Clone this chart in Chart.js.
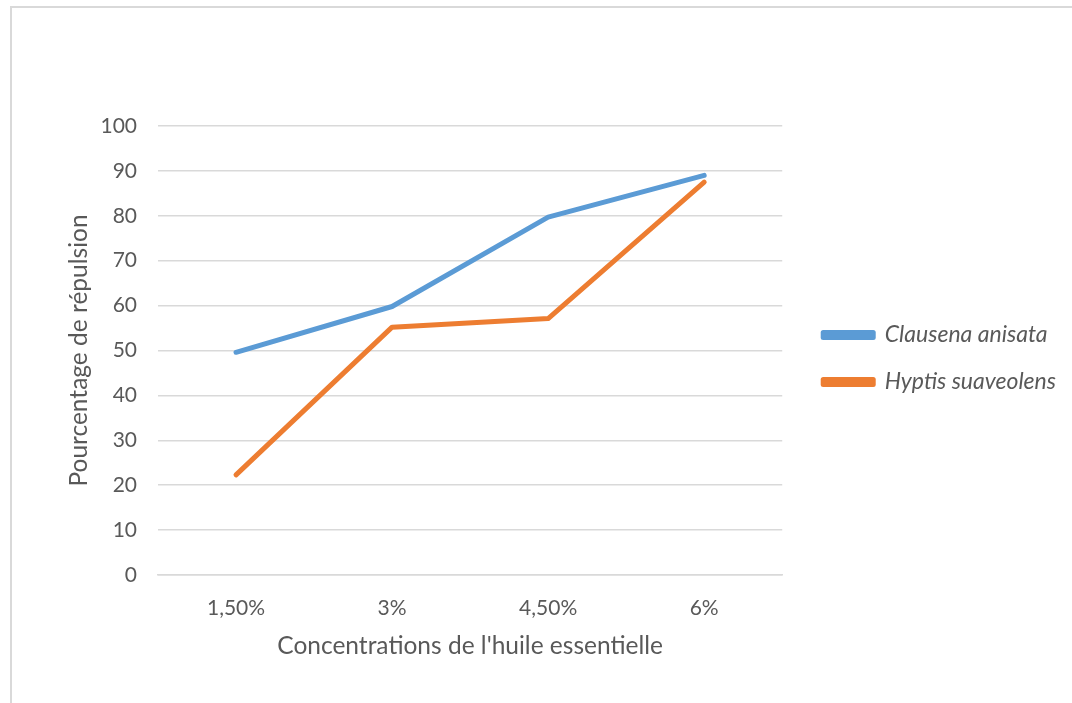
<!DOCTYPE html>
<html>
<head>
<meta charset="utf-8">
<script src="https://cdn.jsdelivr.net/npm/chart.js@4"></script>
<style>
  html, body { margin: 0; padding: 0; background: #fff; }
  #wrap { position: relative; width: 1072px; height: 703px; overflow: hidden; }
  #frame { position: absolute; left: 10px; top: 6px; width: 1100px; height: 800px;
           border-top: 2px solid #d9d9d9; border-left: 2px solid #d9d9d9; }
  canvas { position: absolute; left: 0; top: 0; }
</style>
</head>
<body>
<div id="wrap">
  <div id="frame"></div>
  <canvas id="grafico" width="1072" height="703"></canvas>
</div>
<script>
const concentrations = ["1,50%", "3%", "4,50%", "6%"];

// Clausena anisata
const clausena = [49.6, 59.8, 79.7, 89];

// Hyptis suaveolens
const hyptis = [22.3, 55.2, 57.1, 87.5];

const yTicks = [0, 10, 20, 30, 40, 50, 60, 70, 80, 90, 100];

const gris = "#595959";
const fuente = "Lato, 'Open Sans', sans-serif";

const grafico = new Chart(document.getElementById("grafico"), {
  type: "line",
  data: {
    labels: concentrations,
    datasets: [
      {
        label: "Clausena anisata",
        data: clausena,
        borderColor: "#5b9bd5",
        backgroundColor: "#5b9bd5",
        borderWidth: 5,
        pointRadius: 0,
        borderCapStyle: "round",
        borderJoinStyle: "round",
      },
      {
        label: "Hyptis suaveolens",
        data: hyptis,
        borderColor: "#ed7d31",
        backgroundColor: "#ed7d31",
        borderWidth: 5,
        pointRadius: 0,
        borderCapStyle: "round",
        borderJoinStyle: "round",
      },
    ],
  },
  options: {
    responsive: false,
    animation: false,
    layout: {
      padding: { left: 60, top: 126, bottom: 42, right: 6 },
    },
    plugins: {
      tooltip: { enabled: false },
      legend: {
        position: "right",
        fullSize: false,
        maxWidth: 320,
        title: {
          display: true,
          text: " ",
          padding: 2,
          font: { size: 10 },
        },
        labels: {
          boxWidth: 50,
          boxHeight: 5,
          padding: 24,
          color: gris,
          font: { family: fuente, size: 23, style: "italic" },
        },
      },
    },
    scales: {
      x: {
        offset: true,
        grid: { display: false },
        border: { display: true, color: "#d9d9d9", width: 1.5 },
        ticks: {
          color: gris,
          padding: 13,
          font: { family: fuente, size: 21 },
        },
        title: {
          display: true,
          text: "Concentrations de l'huile essentielle",
          color: gris,
          padding: { top: 6, bottom: 0 },
          font: { family: fuente, size: 24.5 },
        },
        afterFit: (scale) => { scale.height = 86; },
      },
      y: {
        min: 0,
        max: 100,
        afterBuildTicks: (scale) => { scale.ticks = yTicks.map((v) => ({ value: v })); },
        grid: { color: "#d9d9d9", lineWidth: 1.5, drawTicks: false },
        border: { display: false },
        ticks: {
          color: gris,
          padding: 21,
          font: { family: fuente, size: 21 },
        },
        title: {
          display: true,
          text: "Pourcentage de répulsion",
          color: gris,
          padding: { top: 4, bottom: 4 },
          font: { family: fuente, size: 24.5 },
        },
        afterFit: (scale) => { scale.width = 98; },
      },
      // empty space between the plot and the legend
      hueco: {
        position: "right",
        grid: { display: false },
        border: { display: false },
        ticks: { display: false },
        afterFit: (scale) => { scale.width = 17; },
      },
    },
  },
});
</script>
</body>
</html>
